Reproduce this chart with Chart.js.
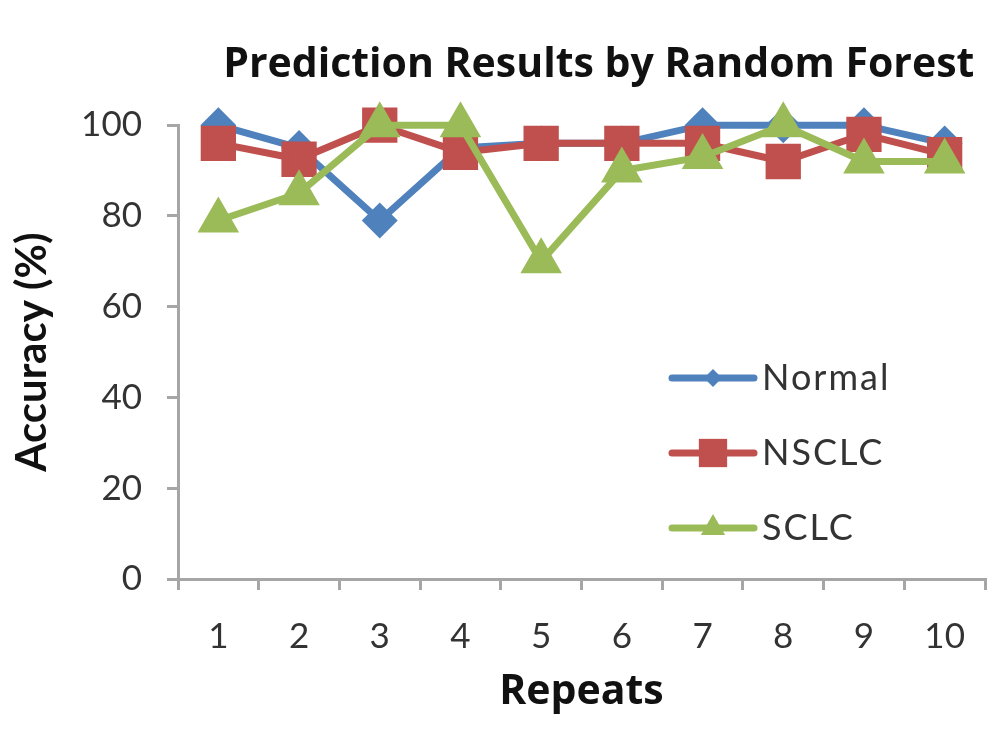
<!DOCTYPE html>
<html>
<head>
<meta charset="utf-8">
<title>Prediction Results by Random Forest</title>
<script src="https://cdn.jsdelivr.net/npm/chart.js@4.4.1/dist/chart.umd.min.js"></script>
<style>
  html, body { margin: 0; padding: 0; background: #fff; }
  #wrap { width: 1000px; height: 750px; }
</style>
</head>
<body>
<div id="wrap"><canvas id="rfChart" width="1000" height="750"></canvas></div>
<script>
// Prediction accuracy per repeat, three classes
var repeats = ['1', '2', '3', '4', '5', '6', '7', '8', '9', '10'];
var normalAcc = [100, 95, 79, 95, 96, 96, 100, 100, 100, 96];
var nsclcAcc = [96, 92.5, 100, 94, 96, 96, 96, 92, 98, 93.5];
var sclcAcc = [79, 85, 100, 100, 70, 90, 93, 100, 92, 92];
var yTicks = [0, 20, 40, 60, 80, 100];

(function () {
  var FONT = 'Lato, "Liberation Sans", Arial, sans-serif';
  var WIDE = '"Open Sans", Lato, sans-serif';
  var axisGray = '#a6a6a6';
  var textColor = '#333333';

  // legend drawn inside the plot, line + marker like the original
  var insideLegend = {
    id: 'insideLegend',
    afterDraw: function (chart) {
      var ctx = chart.ctx;
      var rows = [378, 453, 528];
      var sizes = [9, 20, 14];
      ctx.save();
      chart.data.datasets.forEach(function (ds, k) {
        var y = rows[k];
        ctx.strokeStyle = ds.borderColor;
        ctx.lineWidth = 7;
        ctx.lineCap = 'round';
        ctx.beginPath();
        ctx.moveTo(672, y);
        ctx.lineTo(754, y);
        ctx.stroke();
        ctx.fillStyle = ds.backgroundColor;
        Chart.helpers.drawPoint(ctx, { pointStyle: ds.pointStyle, radius: sizes[k], rotation: 0, borderWidth: 0 }, 713, y);
        ctx.fillStyle = textColor;
        ctx.font = '36px ' + FONT;
        ctx.letterSpacing = '2px';
        ctx.textAlign = 'left';
        ctx.textBaseline = 'middle';
        ctx.fillText(ds.label, 762, y);
      });
      ctx.restore();
    }
  };

  var el = document.getElementById('rfChart');
  new Chart(el.getContext('2d'), {
    type: 'line',
    data: {
      labels: repeats,
      datasets: [
        {
          label: 'Normal', data: normalAcc, order: 3,
          borderColor: '#4f81bd', backgroundColor: '#4f81bd',
          pointStyle: 'rectRot', pointRadius: 13, borderWidth: 7
        },
        {
          label: 'NSCLC', data: nsclcAcc, order: 2,
          borderColor: '#c0504d', backgroundColor: '#c0504d',
          pointStyle: 'rect', pointRadius: 20, borderWidth: 7
        },
        {
          label: 'SCLC', data: sclcAcc, order: 1,
          borderColor: '#9bbb59', backgroundColor: '#9bbb59',
          pointStyle: 'triangle', pointRadius: 17, borderWidth: 7
        }
      ]
    },
    options: {
      responsive: false,
      animation: false,
      clip: false,
      layout: { autoPadding: false, padding: { left: 0, right: 15, top: 0, bottom: 33 } },
      elements: {
        line: { tension: 0 },
        point: { borderWidth: 0, hoverRadius: 13 }
      },
      plugins: {
        legend: { display: false },
        tooltip: { enabled: false },
        title: {
          display: true,
          fullSize: false,
          align: 'end',
          text: 'Prediction Results by Random Forest\u00a0',
          color: '#111',
          font: { family: WIDE, size: 41, weight: 'bold' },
          padding: { top: 41, bottom: 35 }
        }
      },
      scales: {
        x: {
          offset: true,
          afterFit: function (scale) {
            scale.height = 138;
            scale.paddingLeft = 0;
            scale.paddingRight = 0;
          },
          grid: { offset: true, drawOnChartArea: false, color: axisGray, lineWidth: 3, tickLength: 11 },
          border: { color: axisGray, width: 3 },
          ticks: { color: textColor, font: { family: FONT, size: 35 }, padding: 26 },
          title: {
            display: true, text: 'Repeats', color: '#111',
            font: { family: WIDE, size: 41, weight: 'bold' }, padding: { top: 0, bottom: 0 }
          }
        },
        y: {
          min: 0,
          max: 100,
          afterFit: function (scale) { scale.width = 178; },
          afterBuildTicks: function (scale) {
            scale.ticks = yTicks.map(function (v) { return { value: v }; });
          },
          grid: { drawOnChartArea: false, color: axisGray, lineWidth: 3, tickLength: 11 },
          border: { color: axisGray, width: 3 },
          ticks: { color: textColor, font: { family: FONT, size: 35 }, padding: 25 },
          title: {
            display: true, text: 'Accuracy (%)', color: '#111',
            font: { family: FONT, size: 42, weight: 'bold' }, padding: { top: 7, bottom: 0 }
          }
        }
      }
    },
    plugins: [insideLegend]
  });
})();
</script>
</body>
</html>
